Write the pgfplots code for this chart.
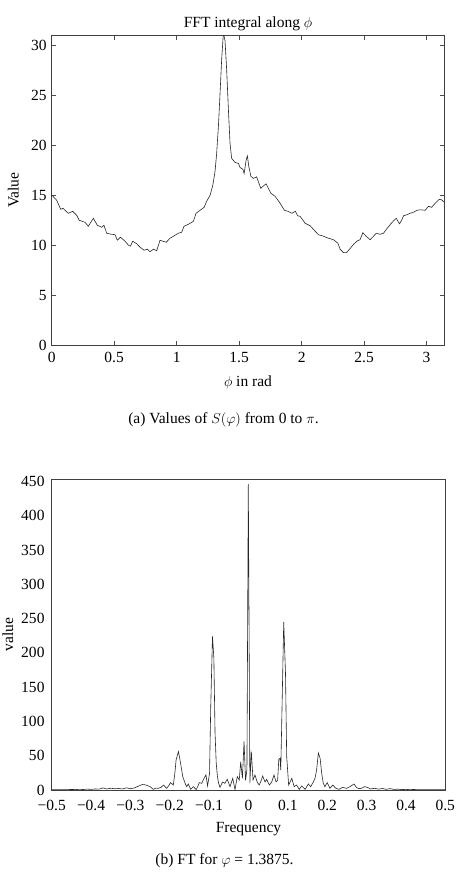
\documentclass[border=0pt]{standalone}
\usepackage{pgfplots}
\pgfplotsset{compat=1.18}
\usepackage{fontspec}
\setmainfont{Liberation Serif}
\begin{document}
\fontsize{15bp}{18bp}\selectfont
\begin{tikzpicture}
\path (0,0) rectangle (476bp,878bp);
\begin{axis}[
  at={(51.7bp,533bp)}, anchor=south west,
  scale only axis, width=392.6bp, height=309.3bp,
  xmin=0, xmax=3.14159, ymin=0, ymax=31,
  xtick={0,0.5,1,1.5,2,2.5,3}, ytick={0,5,10,15,20,25,30},
  tick align=inside, major tick length=4bp,
  tick style={color=black!70, line width=0.5pt},
  axis line style={color=black!75, line width=0.7pt},
  /pgf/number format/assume math mode=true,
  ticklabel style={font=\fontsize{15.5bp}{18bp}\selectfont},
  xticklabel style={yshift=-2bp},
  every axis title shift=0pt,
  title={FFT integral along $\phi$},
  title style={at={(axis description cs:0.5,1)}, anchor=center, yshift=12bp, font=\fontsize{15.5bp}{18bp}\selectfont},
  xlabel={$\phi$ in rad},
  xlabel style={at={(axis description cs:0.5,0)}, anchor=center, yshift=-38bp, font=\fontsize{15.5bp}{18bp}\selectfont},
  ylabel={Value},
  ylabel style={at={(axis description cs:0,0.5)}, anchor=center, inner sep=0pt, yshift=38.4bp, font=\fontsize{15.5bp}{18bp}\selectfont},
  clip=true,
]
\addplot[black!85, line width=0.6pt] coordinates {
(0.000,15.04)(0.040,14.5)(0.072,13.6)(0.090,13.7)(0.133,13.2)(0.168,13.4)(0.200,13.0)
(0.220,12.5)(0.267,12.3)(0.293,11.9)(0.333,12.7)(0.365,12.0)(0.400,11.8)(0.418,12.0)
(0.440,11.2)(0.480,11.1)(0.507,11.05)(0.525,10.5)(0.550,10.8)(0.587,10.4)(0.614,10.0)
(0.630,9.9)(0.648,10.4)(0.680,10.15)(0.707,9.8)(0.739,9.5)(0.765,9.6)(0.787,9.35)
(0.814,9.6)(0.840,9.45)(0.867,10.5)(0.890,10.4)(0.916,10.3)(0.947,10.7)(0.987,11.0)
(1.014,11.2)(1.040,11.3)(1.059,11.9)(1.094,12.1)(1.134,12.4)(1.155,13.2)(1.187,13.5)
(1.220,13.8)(1.240,14.4)(1.267,15.0)(1.289,16.0)(1.307,17.4)(1.320,19.2)(1.334,21.9)
(1.347,25.2)(1.360,28.6)(1.374,31.3)(1.387,30.5)(1.400,27.6)(1.414,23.6)(1.427,20.2)
(1.440,18.7)(1.467,18.3)(1.494,18.2)(1.507,17.8)(1.530,17.6)(1.540,17.2)(1.556,18.55)
(1.566,18.95)(1.577,17.9)(1.594,16.9)(1.614,16.7)(1.640,16.85)(1.663,16.05)(1.673,15.7)
(1.690,15.9)(1.716,16.15)(1.754,15.2)(1.788,14.9)(1.828,14.2)(1.862,13.5)(1.890,13.4)
(1.921,13.2)(1.950,13.4)(1.968,12.95)(1.988,12.9)(2.028,12.2)(2.068,11.95)(2.108,11.4)
(2.135,11.05)(2.175,10.9)(2.215,10.7)(2.255,10.55)(2.290,10.2)(2.308,9.6)(2.335,9.26)
(2.360,9.26)(2.390,9.7)(2.416,10.1)(2.447,10.45)(2.467,10.55)(2.490,11.25)(2.516,10.9)
(2.548,10.55)(2.575,10.9)(2.597,11.2)(2.628,11.1)(2.655,11.2)(2.682,11.65)(2.714,12.15)
(2.740,12.5)(2.757,12.7)(2.783,12.15)(2.800,12.5)(2.815,12.95)(2.840,13.05)(2.868,13.2)
(2.895,13.3)(2.922,13.5)(2.950,13.55)(2.989,13.5)(3.015,13.9)(3.040,13.8)(3.069,14.2)
(3.100,14.6)(3.120,14.55)(3.1416,14.3)
};
\end{axis}
\node[font=\fontsize{15.5bp}{18bp}\selectfont] at (223.5bp,458bp) {(a) Values of $S(\varphi)$ from 0 to $\pi$.};
\begin{axis}[
  at={(51.7bp,88bp)}, anchor=south west,
  scale only axis, width=393.6bp, height=310.7bp,
  xmin=-0.5, xmax=0.5, ymin=0, ymax=453,
  xtick={-0.5,-0.4,-0.3,-0.2,-0.1,0,0.1,0.2,0.3,0.4,0.5},
  xticklabels={−0.5,−0.4,−0.3,−0.2,−0.1,0,0.1,0.2,0.3,0.4,0.5},
  ytick={0,50,100,150,200,250,300,350,400,450},
  major tick length=0pt,
  axis line style={color=black!75, line width=0.9pt},
  /pgf/number format/assume math mode=true,
  ticklabel style={font=\fontsize{15.5bp}{18bp}\selectfont, inner sep=1bp},
  xticklabel style={yshift=-8.5bp},
  yticklabel style={xshift=-6bp},
  xlabel={Frequency},
  xlabel style={at={(axis description cs:0.5,0)}, anchor=center, yshift=-39bp, font=\fontsize{15.5bp}{18bp}\selectfont},
  ylabel={value},
  ylabel style={at={(axis description cs:0,0.5)}, anchor=center, inner sep=0pt, yshift=44bp, font=\fontsize{15.5bp}{18bp}\selectfont},
  clip=true,
]
\addplot[black!85, line width=0.6pt] coordinates {
(-0.500,0.5)(-0.490,0.4)(-0.480,0.6)(-0.470,0.3)(-0.460,0.5)(-0.450,0.8)(-0.440,0.6)
(-0.430,1.0)(-0.420,0.7)(-0.410,1.3)(-0.400,0.9)(-0.390,1.5)(-0.380,1.2)(-0.370,3.0)
(-0.360,1.5)(-0.350,2.5)(-0.340,1.8)(-0.330,2.2)(-0.320,1.5)(-0.310,3.2)(-0.300,1.8)
(-0.290,3.0)(-0.280,5.5)(-0.270,8.0)(-0.262,7.5)(-0.255,6.0)(-0.250,4.9)(-0.242,1.0)
(-0.235,2.8)(-0.229,2.4)(-0.222,4.0)(-0.216,7.3)(-0.208,2.4)(-0.203,6.0)(-0.198,10.7)
(-0.191,7.3)(-0.187,25)(-0.184,43.8)(-0.180,52)(-0.178,56)(-0.174,43.8)(-0.170,30)
(-0.167,19.5)(-0.161,9.7)(-0.157,4.9)(-0.153,8.8)(-0.147,1.0)(-0.140,4.9)(-0.133,0.5)
(-0.129,5)(-0.125,10.7)(-0.119,9.7)(-0.113,17)(-0.108,22)(-0.104,6)(-0.099,24)
(-0.096,120)(-0.0915,224)(-0.088,192)(-0.085,83)(-0.082,39)(-0.079,20)(-0.076,10)
(-0.0724,3.9)(-0.066,11.7)(-0.060,9.7)(-0.054,15.6)(-0.047,4.9)(-0.040,17)(-0.0343,0.5)
(-0.0285,19.5)(-0.0235,14.6)(-0.0198,41.3)(-0.0155,17)(-0.0113,71)(-0.0075,14)
(-0.0040,30)(-0.0005,446)(0.0035,10)(0.0072,56)(0.0115,14.6)(0.0165,21.9)(0.022,11.7)
(0.027,7.3)(0.031,12)(0.036,20.4)(0.042,11.7)(0.046,15.6)(0.053,7.3)(0.059,11.7)
(0.0648,21.9)(0.070,11.7)(0.074,14)(0.077,45)(0.080,46)(0.082,29)(0.0895,245)
(0.094,170)(0.097,49)(0.102,7)(0.106,12)(0.110,17)(0.116,4.9)(0.122,7.3)(0.129,1.0)
(0.135,6)(0.144,1.0)(0.152,8.8)(0.158,4.9)(0.1647,11.7)(0.169,17)(0.173,29)(0.1775,54)
(0.182,46)(0.186,24)(0.190,9.7)(0.194,4.9)(0.200,10.7)(0.207,2.4)(0.214,7.3)(0.222,2.4)
(0.230,1.0)(0.239,3.9)(0.249,2.4)(0.258,4.9)(0.268,8.8)(0.274,3.9)(0.280,2.0)(0.287,2.4)
(0.295,4.9)(0.304,3.4)(0.310,1.5)(0.320,2.5)(0.330,1.2)(0.340,2.2)(0.350,1.0)(0.360,2.0)
(0.370,0.8)(0.380,1.2)(0.390,0.6)(0.400,0.9)(0.410,0.5)(0.420,0.8)(0.430,0.4)(0.440,0.6)
(0.450,0.3)(0.460,0.5)(0.470,0.3)(0.480,0.4)(0.490,0.3)(0.500,0.4)
};
\end{axis}
\node[font=\fontsize{15.5bp}{18bp}\selectfont] at (224.5bp,17bp) {(b) FT for $\varphi$ = 1.3875.};
\end{tikzpicture}
\end{document}
